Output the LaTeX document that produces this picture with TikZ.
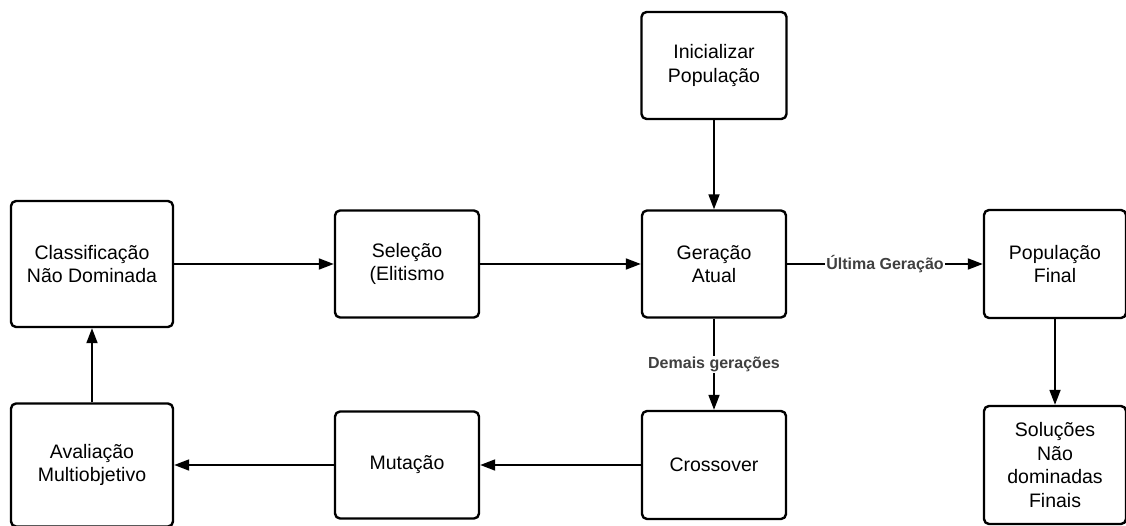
\documentclass[tikz,border=0pt]{standalone}
\usepackage{fontspec}
\setmainfont{Liberation Sans}
\usepackage{xcolor}
\usetikzlibrary{arrows.meta}
\definecolor{labelgray}{HTML}{404040}

\begin{document}
\begin{tikzpicture}
      [x=1pt,y=-1pt,line join=round,
       box/.style={draw,rounded corners=5pt,line width=2.4pt,align=center,inner sep=2pt,
         font=\fontsize{19.5}{23.5}\selectfont},
       flow/.style={-{Triangle[length=15pt,width=11pt]},line width=1.8pt},
       lbl/.style={fill=white,text=labelgray,inner sep=1pt,
         font=\bfseries\fontsize{16}{18}\selectfont}]

%page frame
  \useasboundingbox (0,0) rectangle (1126,526);

%the boxes
  \node[box,minimum width=145,minimum height=107] (init) at (714,65.5) {Inicializar\\População};
  \node[box,minimum width=144,minimum height=107] (gen) at (714,264) {Geração\\Atual};
  \node[box,minimum width=142,minimum height=108] (fin) at (1055,264) {População\\Final};
  \node[box,minimum width=144,minimum height=107] (sel) at (407,264) {Seleção\\(Elitismo};
  \node[box,minimum width=162,minimum height=126] (class) at (92,264) {Classificação\\Não Dominada};
  \node[box,minimum width=162,minimum height=123] (aval) at (92,465) {Avaliação\\Multiobjetivo};
  \node[box,minimum width=144,minimum height=107] (mut) at (407,465) {Mutação};
  \node[box,minimum width=144,minimum height=108] (cross) at (714,465) {Crossover};
  \node[box,minimum width=142,minimum height=118] (sol) at (1055,465) {Soluções\\Não\\dominadas\\Finais};

%the flow
  \draw[flow] (init) -- (gen);
  \draw[flow] (gen) -- node[lbl]{Última Geração} (fin);
  \draw[flow] (gen) -- node[lbl]{Demais gerações} (cross);
  \draw[flow] (fin) -- (sol);
  \draw[flow] (cross) -- (mut);
  \draw[flow] (mut) -- (aval);
  \draw[flow] (aval) -- (class);
  \draw[flow] (class) -- (sel);
  \draw[flow] (sel) -- (gen);

\end{tikzpicture}
\end{document}
